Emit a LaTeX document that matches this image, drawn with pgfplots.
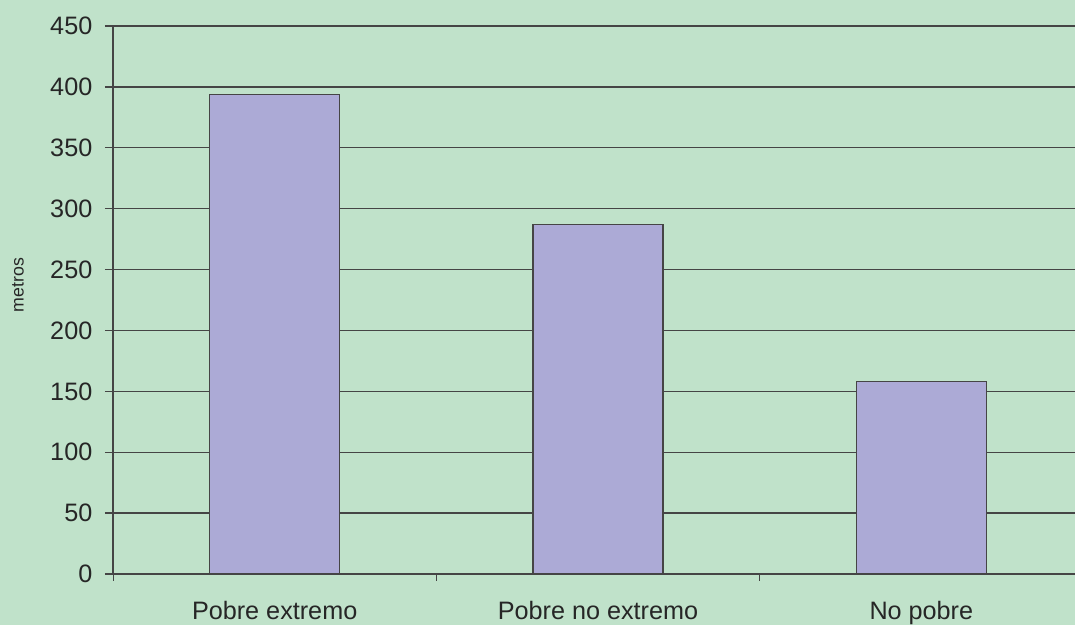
\documentclass[border=0pt]{standalone}
\usepackage{pgfplots}
\pgfplotsset{compat=1.18}
\usepackage{fontspec}
\setmainfont{Liberation Sans}
\definecolor{bg}{HTML}{C0E2CA}
\definecolor{barfill}{HTML}{ACAAD6}
\definecolor{lineg}{HTML}{454545}

\begin{document}
\begin{tikzpicture}
% page area: the axis box sits with its lower left corner at the origin
\fill[bg] (-84.75pt,-38.25pt) rectangle (721.5pt,430.5pt);
\path[use as bounding box] (-84.75pt,-38.25pt) rectangle (721.5pt,430.5pt);
\begin{scope}
\clip (-84.75pt,-38.25pt) rectangle (721.5pt,430.5pt);
\begin{axis}[
  at={(0pt,0pt)}, anchor=south west,
  scale only axis, width=727.5pt, height=411pt,
  xmin=-0.5, xmax=2.5, ymin=0, ymax=450,
  axis x line*=bottom, axis y line*=left,
  axis line style={lineg, line width=1pt},
  ytick={0,50,...,450},
  xtick={0,1,2},
  xticklabels={Pobre extremo, Pobre no extremo, No pobre},
  minor xtick={-0.5,0.5,1.5,2.5},
  major x tick style={draw=none},
  minor x tick style={lineg, line width=0.7pt},
  major y tick style={lineg, line width=1pt},
  tick align=outside,
  major tick length=6pt, minor tick length=5pt,
  ymajorgrids, grid style={lineg, line width=1pt},
  /pgf/number format/assume math mode=true,
  ticklabel style={font=\fontsize{18.9}{21}\selectfont, text=black!85},
  xticklabel style={yshift=-11pt},
  yticklabel style={xshift=-6pt},
  ylabel={metros},
  every axis y label/.style={at={(axis description cs:-0.098,0.527)}, rotate=90, anchor=center,
    font=\fontsize{13.3}{15}\selectfont, text=black!85},
  ybar, bar width=0.402,
]
\addplot[fill=barfill, draw=lineg, line width=1pt] coordinates {(0,394) (1,287) (2,158)};
\end{axis}
\end{scope}
\end{tikzpicture}
\end{document}
